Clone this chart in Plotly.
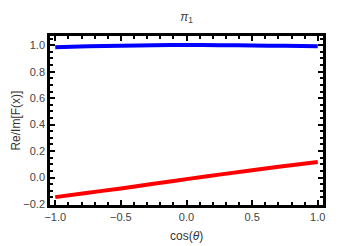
import plotly.graph_objects as go

x_vals = [-1.0, -0.75, -0.5, -0.25, 0.0, 0.25, 0.5, 0.75, 1.0]
re_vals = [0.985, 0.992, 0.997, 1.0, 1.002, 1.001, 0.998, 0.996, 0.993]
im_vals = [-0.148, -0.115, -0.082, -0.047, -0.012, 0.022, 0.055, 0.087, 0.117]

x_ticks = [-1.0, -0.5, 0.0, 0.5, 1.0]
x_ticklabels = ["\u22121.0", "\u22120.5", "0.0", "0.5", "1.0"]
y_ticks = [-0.2, 0.0, 0.2, 0.4, 0.6, 0.8, 1.0]
y_ticklabels = ["\u22120.2", "0.0", "0.2", "0.4", "0.6", "0.8", "1.0"]

fig = go.Figure()
fig.add_trace(go.Scatter(x=x_vals, y=re_vals, mode="lines",
                         line=dict(color="rgb(0,0,255)", width=4, shape="spline")))
fig.add_trace(go.Scatter(x=x_vals, y=im_vals, mode="lines",
                         line=dict(color="rgb(255,0,0)", width=4, shape="spline")))

axis_common = dict(showline=True, linecolor="black", linewidth=2.5, mirror="ticks",
                   ticks="inside", ticklen=5, tickwidth=1.5, tickcolor="black",
                   showgrid=False, zeroline=False, automargin=False,
                   tickfont=dict(family="Liberation Sans, Arial", size=11, color="#444"))

fig.update_xaxes(range=[-1.04, 1.04], tickvals=x_ticks, ticktext=x_ticklabels,
                 minor=dict(dtick=0.1, tick0=0, ticks="inside", ticklen=3, tickwidth=1.5, tickcolor="black"),
                 **axis_common)
fig.update_yaxes(range=[-0.2075, 1.07], tickvals=y_ticks, ticktext=y_ticklabels,
                 minor=dict(dtick=0.05, tick0=0, ticks="inside", ticklen=3, tickwidth=1.5, tickcolor="black"),
                 **axis_common)

title_font = dict(family="Liberation Sans, Arial", size=12, color="#333")
fig.add_annotation(text="cos(<i>θ</i>)", xref="paper", yref="paper", x=0.5, y=-0.183,
                   xanchor="center", yanchor="middle", showarrow=False, font=title_font)
fig.add_annotation(text="Re/Im[F(x)]", xref="paper", yref="paper", x=-0.128, y=0.5,
                   xanchor="center", yanchor="middle", textangle=-90, showarrow=False, font=title_font)

# page body has an 8px default margin, so the figure is sized to end at the window edge
fig.update_layout(
    width=350, height=238,
    margin=dict(l=42, r=35, t=28, b=41),
    paper_bgcolor="white", plot_bgcolor="white",
    showlegend=False,
    title=dict(text="<i>π</i><sub>1</sub>", xref="paper", x=0.5, xanchor="center",
               y=0.965, yanchor="middle",
               font=dict(family="Liberation Sans, Arial", size=12, color="#444")),
)

fig.write_html("out.html")
